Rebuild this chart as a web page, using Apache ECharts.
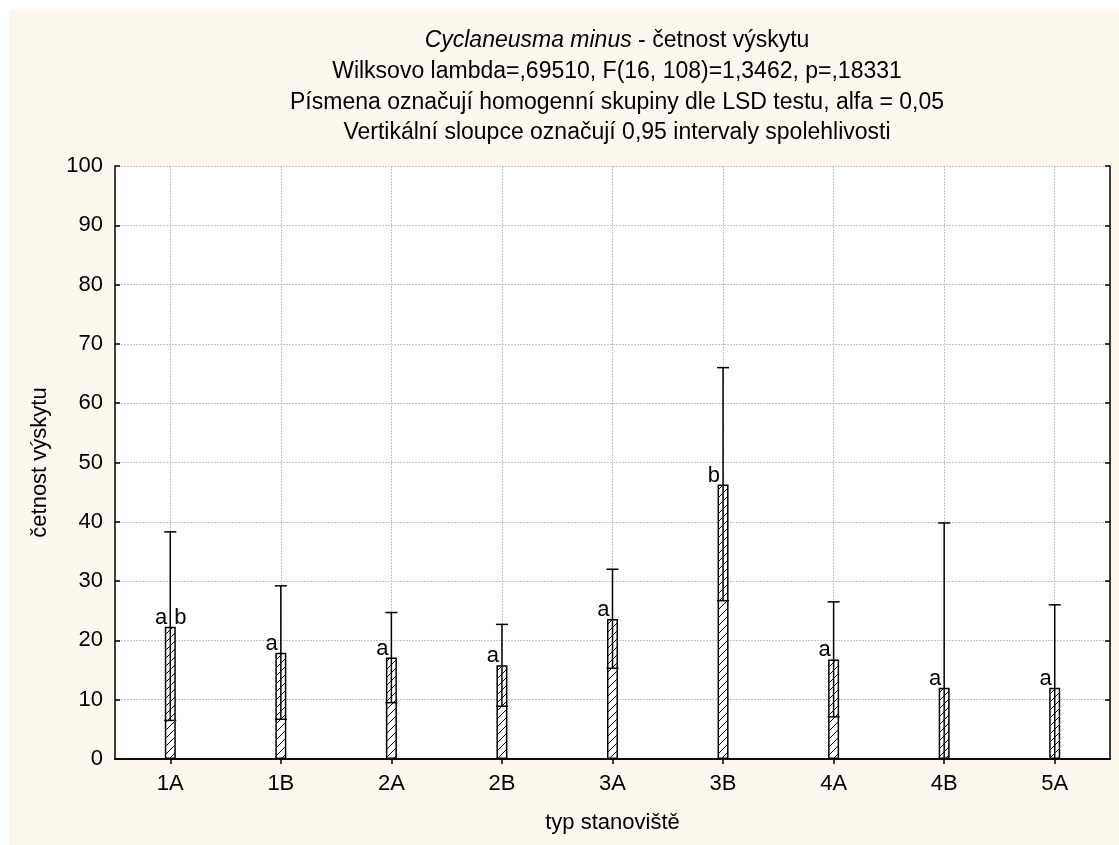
<!DOCTYPE html>
<html>
<head>
<meta charset="utf-8">
<script src="https://cdn.jsdelivr.net/npm/echarts@6/dist/echarts.min.js"></script>
<style>
  html, body { margin: 0; padding: 0; background: #ffffff; }
  #chart { width: 1119px; height: 845px; }
</style>
</head>
<body>
<div id="chart"></div>
<script>
// Site types and mean occurrence with 0.95 confidence limits
const categories = ['1A', '1B', '2A', '2B', '3A', '3B', '4A', '4B', '5A'];
const means = [22.3, 17.9, 17.1, 15.8, 23.6, 46.3, 16.8, 12.0, 12.0];
const upperCI = [38.3, 29.2, 24.7, 22.7, 32.0, 66.0, 26.5, 39.8, 26.0];
const lowerCI = [6.5, 6.7, 9.5, 8.9, 15.3, 26.7, 7.1, -15.8, -2.0];
// Homogeneous groups (LSD test)
const groups = ['a b', 'a', 'a', 'a', 'a', 'b', 'a', 'a', 'a'];
const yTicks = [0, 100, 10];

const FONT = '"Liberation Sans", Arial, sans-serif';
const TITLE_SIZE = 23;
const LABEL_SIZE = 22;

// Diagonal hatch tile for the bars
function hatchTile() {
  const s = 8;
  const c = document.createElement('canvas');
  c.width = s; c.height = s;
  const g = c.getContext('2d');
  g.fillStyle = '#ffffff';
  g.fillRect(0, 0, s, s);
  g.strokeStyle = '#000000';
  g.lineWidth = 1;
  g.beginPath();
  g.moveTo(-1, s + 1); g.lineTo(s + 1, -1);
  g.moveTo(-1, 1); g.lineTo(1, -1);
  g.moveTo(s - 1, s + 1); g.lineTo(s + 1, s - 1);
  g.stroke();
  return c;
}

const chart = echarts.init(document.getElementById('chart'), null, { renderer: 'canvas' });

const gridStyle = { color: '#c4c4c4', width: 1, type: [2, 1] };
const axisLineStyle = { color: '#000000', width: 1.5 };
const plain = { fontFamily: FONT, fontSize: TITLE_SIZE, fontWeight: 'normal', color: '#000' };

const option = {
  backgroundColor: '#ffffff',
  animation: false,
  graphic: [{
    type: 'rect', z: -10, silent: true,
    shape: { x: 9, y: 10, width: 1110, height: 835 },
    style: { fill: '#fdf8ed' }
  }],
  title: [
    {
      text: '{i|Cyclaneusma minus}{n| - četnost výskytu}',
      left: 612, top: 24, textAlign: 'center',
      textStyle: {
        rich: {
          i: Object.assign({}, plain, { fontStyle: 'italic' }),
          n: plain
        }
      }
    },
    {
      text: 'Wilksovo lambda=,69510, F(16, 108)=1,3462, p=,18331',
      left: 612, top: 55, textAlign: 'center', textStyle: plain
    },
    {
      text: 'Písmena označují homogenní skupiny dle LSD testu, alfa = 0,05',
      left: 612, top: 86, textAlign: 'center', textStyle: plain
    },
    {
      text: 'Vertikální sloupce označují 0,95 intervaly spolehlivosti',
      left: 612, top: 116, textAlign: 'center', textStyle: plain
    }
  ],
  grid: {
    left: 115, top: 166, right: 9, bottom: 86,
    show: true, backgroundColor: '#ffffff', borderWidth: 0
  },
  xAxis: [
    {
      type: 'category', data: categories, position: 'bottom',
      name: 'typ stanoviště', nameLocation: 'middle', nameGap: 53,
      nameTextStyle: { fontFamily: FONT, fontSize: LABEL_SIZE, color: '#000' },
      axisLine: { lineStyle: axisLineStyle },
      axisTick: { show: true, inside: true, alignWithLabel: true, length: 5, lineStyle: { color: '#000', width: 1.5 } },
      axisLabel: { fontFamily: FONT, fontSize: LABEL_SIZE, color: '#000', margin: 14 },
      splitLine: { show: true, alignWithLabel: true, lineStyle: gridStyle }
    },
    {
      type: 'category', data: categories, position: 'top',
      axisLine: { lineStyle: axisLineStyle },
      axisTick: { show: true, inside: true, alignWithLabel: true, length: 5, lineStyle: { color: '#000', width: 1.5 } },
      axisLabel: { show: false },
      splitLine: { show: false }
    }
  ],
  yAxis: [
    {
      type: 'value', min: yTicks[0], max: yTicks[1], interval: yTicks[2], position: 'left',
      name: 'četnost výskytu', nameLocation: 'middle', nameGap: 64, nameRotate: 90,
      nameTextStyle: { fontFamily: FONT, fontSize: LABEL_SIZE, color: '#000' },
      axisLine: { show: true, lineStyle: axisLineStyle },
      axisTick: { show: true, inside: true, length: 5, lineStyle: { color: '#000', width: 1.5 } },
      axisLabel: { fontFamily: FONT, fontSize: LABEL_SIZE, color: '#000', margin: 12 },
      splitLine: { show: true, lineStyle: gridStyle }
    },
    {
      type: 'value', min: yTicks[0], max: yTicks[1], interval: yTicks[2], position: 'right',
      axisLine: { show: true, lineStyle: axisLineStyle },
      axisTick: { show: true, inside: true, length: 5, lineStyle: { color: '#000', width: 1.5 } },
      axisLabel: { show: false },
      splitLine: { show: false }
    }
  ],
  series: [
    {
      type: 'bar', xAxisIndex: 0, yAxisIndex: 0,
      data: means, barWidth: 11, z: 2,
      itemStyle: {
        color: { image: hatchTile(), repeat: 'repeat' },
        borderColor: '#000', borderWidth: 1.5
      }
    },
    {
      type: 'custom', xAxisIndex: 0, yAxisIndex: 0, z: 5,
      data: categories.map((c, i) => [i, means[i], lowerCI[i], upperCI[i]]),
      renderItem: function (params, api) {
        const i = api.value(0);
        const mean = api.value(1);
        const lo = api.value(2);
        const hi = api.value(3);
        const pHi = api.coord([i, hi]);
        const pLo = api.coord([i, Math.max(lo, 0)]);
        const pMean = api.coord([i, mean]);
        const x = pHi[0];
        const half = 6;
        const ls = { stroke: '#000', lineWidth: 1.5 };
        const children = [
          { type: 'line', shape: { x1: x, y1: pHi[1], x2: x, y2: pLo[1] }, style: ls },
          { type: 'line', shape: { x1: x - half, y1: pHi[1], x2: x + half, y2: pHi[1] }, style: ls }
        ];
        if (lo > 0) {
          children.push({ type: 'line', shape: { x1: x - half, y1: pLo[1], x2: x + half, y2: pLo[1] }, style: ls });
        }
        const letters = groups[params.dataIndex].split(' ');
        const textStyle = { fontFamily: FONT, fontSize: LABEL_SIZE, fill: '#000', verticalAlign: 'bottom' };
        children.push({
          type: 'text',
          style: Object.assign({ text: letters[0], x: x - 3, y: pMean[1] + 2, align: 'right' }, textStyle)
        });
        if (letters.length > 1) {
          children.push({
            type: 'text',
            style: Object.assign({ text: letters[1], x: x + 4, y: pMean[1] + 2, align: 'left' }, textStyle)
          });
        }
        return { type: 'group', children: children };
      }
    }
  ]
};

chart.setOption(option);
</script>
</body>
</html>
